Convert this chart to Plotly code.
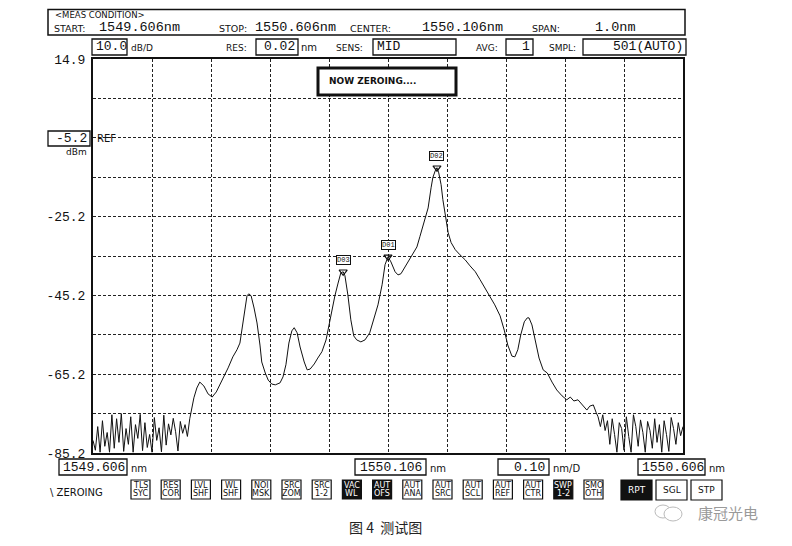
import plotly.graph_objects as go

# ---------------- data ----------------
left_noise_nm = [1549.606, 1549.610, 1549.614, 1549.618, 1549.622, 1549.626, 1549.630,
                 1549.634, 1549.638, 1549.642, 1549.646, 1549.650, 1549.654, 1549.658,
                 1549.662, 1549.666, 1549.670, 1549.674, 1549.678, 1549.682, 1549.686,
                 1549.690, 1549.694, 1549.698, 1549.702, 1549.706, 1549.710, 1549.714,
                 1549.718, 1549.722, 1549.726, 1549.730, 1549.734, 1549.738, 1549.742,
                 1549.746, 1549.750, 1549.754, 1549.758, 1549.762, 1549.766, 1549.770]
left_noise_dbm = [-82.0, -84.5, -78.5, -85.0, -77.0, -83.5, -80.0, -85.0, -75.5, -84.0,
                  -76.5, -82.5, -75.2, -84.8, -79.0, -83.0, -76.0, -85.0, -78.0, -81.5,
                  -75.4, -84.6, -77.5, -83.8, -80.5, -85.0, -76.2, -82.0, -78.8, -84.9,
                  -75.6, -83.2, -77.8, -80.6, -76.4, -79.8, -84.7, -77.2, -80.2, -78.0,
                  -81.0, -76.5]

main_nm = [1549.777, 1549.782, 1549.787, 1549.794, 1549.801, 1549.808, 1549.815, 1549.821, 1549.826, 1549.835,
           1549.843, 1549.850, 1549.855, 1549.860, 1549.864, 1549.867, 1549.870, 1549.874, 1549.879, 1549.884,
           1549.889, 1549.892, 1549.898, 1549.903, 1549.909, 1549.915, 1549.923, 1549.928, 1549.933, 1549.938,
           1549.943, 1549.947, 1549.952, 1549.957, 1549.964, 1549.969, 1549.974, 1549.981, 1549.987, 1549.994,
           1550.001, 1550.006, 1550.011, 1550.016, 1550.021, 1550.026, 1550.030, 1550.033, 1550.038, 1550.043,
           1550.048, 1550.053, 1550.060, 1550.067, 1550.075, 1550.082, 1550.089, 1550.096, 1550.101, 1550.106,
           1550.111, 1550.118, 1550.123, 1550.128, 1550.135, 1550.142, 1550.148, 1550.155, 1550.160, 1550.167,
           1550.174, 1550.179, 1550.182, 1550.186, 1550.189, 1550.192, 1550.196, 1550.199, 1550.203, 1550.208,
           1550.213, 1550.220, 1550.228, 1550.237, 1550.245, 1550.254, 1550.262, 1550.270, 1550.279, 1550.287,
           1550.296, 1550.303, 1550.309, 1550.316, 1550.321, 1550.326, 1550.331, 1550.337, 1550.342, 1550.345,
           1550.350, 1550.355, 1550.362, 1550.369, 1550.376, 1550.384, 1550.392, 1550.401, 1550.409, 1550.415,
           1550.421, 1550.428, 1550.435, 1550.443, 1550.448, 1550.454, 1550.459]
main_dbm = [-71.2, -68.7, -67.2, -68.2, -70.2, -71.0, -69.7, -67.9, -66.7, -63.6,
            -60.8, -59.0, -57.3, -51.9, -47.6, -45.3, -44.8, -45.3, -48.4, -52.2,
            -57.8, -62.1, -64.9, -66.7, -67.7, -67.9, -67.4, -65.9, -62.8, -57.3,
            -54.2, -53.4, -54.7, -58.3, -62.1, -64.1, -63.9, -62.6, -61.1, -59.5,
            -56.5, -52.7, -48.9, -45.3, -42.3, -39.5, -39.2, -40.2, -45.1, -51.4,
            -55.5, -56.5, -57.0, -56.5, -54.7, -51.4, -47.6, -42.5, -37.4, -35.4,
            -36.7, -39.2, -40.0, -39.7, -37.9, -36.4, -34.6, -32.9, -30.3, -26.8,
            -23.0, -17.9, -15.3, -13.6, -12.8, -14.1, -17.1, -20.9, -25.2, -29.3,
            -31.8, -33.6, -34.9, -36.2, -37.7, -39.2, -41.2, -43.3, -45.3, -47.6,
            -50.4, -54.0, -57.8, -60.6, -60.8, -59.0, -55.2, -51.9, -50.9, -50.9,
            -52.7, -56.5, -61.1, -64.1, -64.9, -67.2, -69.2, -70.7, -71.7, -71.0,
            -72.0, -71.7, -73.0, -74.3, -73.3, -73.0, -75.0]

right_noise_nm = [1550.462, 1550.466, 1550.470, 1550.474, 1550.478, 1550.482, 1550.486,
                  1550.490, 1550.494, 1550.498, 1550.502, 1550.506, 1550.510, 1550.514,
                  1550.518, 1550.522, 1550.526, 1550.530, 1550.534, 1550.538, 1550.542,
                  1550.546, 1550.550, 1550.554, 1550.558, 1550.562, 1550.566, 1550.570,
                  1550.574, 1550.578, 1550.582, 1550.586, 1550.590, 1550.594, 1550.598,
                  1550.602, 1550.606]
right_noise_dbm = [-76.0, -78.5, -75.5, -79.5, -77.0, -83.0, -76.5, -80.5, -85.0, -77.5,
                   -79.0, -84.5, -76.0, -81.0, -85.0, -75.5, -78.5, -83.5, -76.8, -80.0,
                   -85.0, -77.2, -79.5, -84.0, -76.5, -82.5, -78.0, -85.0, -77.0, -80.5,
                   -84.8, -76.2, -79.0, -83.0, -77.5, -80.8, -78.5]

marker_nm = [1550.189, 1550.106, 1550.030]
marker_dbm = [-12.8, -35.4, -39.2]
marker_labels = ["D02", "D01", "D03"]

y_tick_vals = [14.8, -25.2, -45.2, -65.2, -85.2]
y_tick_text = ["14.9", "-25.2", "-45.2", "-65.2", "-85.2"]
start_nm, stop_nm = 1549.606, 1550.606
y_min, y_max = -85.2, 14.8

# ---------------- figure ----------------
MONO = "Liberation Mono, DejaVu Sans Mono, monospace"
SANS = "DejaVu Sans, Liberation Sans, sans-serif"

trace_nm = left_noise_nm + main_nm + right_noise_nm
trace_dbm = left_noise_dbm + main_dbm + right_noise_dbm

fig = go.Figure()
fig.add_trace(go.Scatter(x=trace_nm, y=trace_dbm, mode="lines",
                         line=dict(color="#111", width=1), hoverinfo="skip"))
fig.add_trace(go.Scatter(x=marker_nm, y=marker_dbm, mode="markers",
                         marker=dict(symbol="triangle-down-open", size=7,
                                     color="#111", line=dict(width=1.2)),
                         hoverinfo="skip"))

# plot-area pixel geometry helpers (layout decoration only)
L, R, T, B = 93, 683, 59, 453
PAGE_OFFSET = 8  # default body margin of the html page


def X(px):
    return (px - L) / (R - L)


def Y(py):
    return (B - py) / (B - T)


ann = []
shapes = []


def text(px, py, s, size=10, anchor="left", color="#111", family=MONO, bold=False):
    if bold:
        s = "<b>" + s + "</b>"
    ann.append(dict(x=X(px), y=Y(py), xref="paper", yref="paper", text=s,
                    showarrow=False, xanchor=anchor, yanchor="middle",
                    font=dict(family=family, size=size, color=color)))


def box(x0, y0, x1, y1, width=1.3, fill="rgba(0,0,0,0)", color="#111"):
    shapes.append(dict(type="rect", xref="paper", yref="paper",
                       x0=X(x0), x1=X(x1), y0=Y(y1), y1=Y(y0),
                       line=dict(color=color, width=width), fillcolor=fill, layer="above"))


# header box
box(48, 9.5, 685, 35, width=1.5)
text(53, 14.5, "&lt;MEAS CONDITION&gt;", 8.5, family=SANS)
text(52, 28.5, "START:", 9.5, family=SANS)
text(97, 27.5, "1549.606nm", 13.5)
text(217, 28.5, "STOP:", 9.5, family=SANS)
text(253, 27.5, "1550.606nm", 13.5)
text(348, 28.5, "CENTER:", 9.5, family=SANS)
text(420, 27.5, "1550.106nm", 13.5)
text(530, 28.5, "SPAN:", 9.5, family=SANS)
text(593, 27.5, "1.0nm", 13.5)

# settings row
box(92, 39, 127, 55)
text(94, 47, "10.0", 13)
text(129, 48, "dB/D", 9, family=SANS)
text(224, 48, "RES:", 9, family=SANS)
box(256, 39, 298, 55)
text(297, 47, "0.02", 13, anchor="right")
text(299, 48, "nm", 10, family=SANS)
text(334, 48, "SENS:", 9, family=SANS)
box(373, 39, 456, 55)
text(375, 47, "MID", 13)
text(474, 48, "AVG:", 9, family=SANS)
box(506, 39, 533, 55)
text(532, 47, "1", 13, anchor="right")
text(547, 48, "SMPL:", 9, family=SANS)
box(583, 39, 686, 55)
text(685, 47, "501(AUTO)", 13, anchor="right")

# reference level
box(48, 131, 90, 146)
text(89, 138, "-5.2", 13, anchor="right")
text(89, 152, "dBm", 9, anchor="right", family=SANS)
text(95, 138, "REF", 10, family=SANS)

# NOW ZEROING box
box(318, 68, 456, 95, width=3, fill="white")
text(327, 81, "NOW ZEROING....", 9, family=SANS, bold=True)

# bottom axis boxes
box(59, 459, 127, 475)
text(61, 467, "1549.606", 13)
text(129, 468, "nm", 10, family=SANS)
box(355, 459, 426, 475)
text(358, 467, "1550.106", 13)
text(428, 468, "nm", 10, family=SANS)
box(498, 459, 549, 475)
text(547, 467, "0.10", 13, anchor="right")
text(551, 468, "nm/D", 10, family=SANS)
box(638, 459, 705, 475)
text(640, 467, "1550.606", 13)
text(707, 468, "nm", 10, family=SANS)

# soft-key row
text(48, 492, "\\ ZEROING", 10, family=SANS)
keys = [("TLS", "SYC", False), ("RES", "COR", False), ("LVL", "SHF", False),
        ("WL", "SHF", False), ("NOI", "MSK", False), ("SRC", "ZOM", False),
        ("SRC", "1-2", False), ("VAC", "WL", True), ("AUT", "OFS", True),
        ("AUT", "ANA", False), ("AUT", "SRC", False), ("AUT", "SCL", False),
        ("AUT", "REF", False), ("AUT", "CTR", False), ("SWP", "1-2", True),
        ("SMO", "OTH", False)]
for i, (a, b, dark) in enumerate(keys):
    x0 = 131 + 30.2 * i
    box(x0, 480, x0 + 19, 499, width=1.2, fill="#111" if dark else "white")
    col = "white" if dark else "#111"
    text(x0 + 9.5, 485.5, a, 8, anchor="center", color=col, family=SANS)
    text(x0 + 9.5, 494, b, 8, anchor="center", color=col, family=SANS)
for x0, lab, dark in [(621, "RPT", True), (656, "SGL", False), (691, "STP", False)]:
    box(x0, 480, x0 + 31, 500, width=1.2, fill="#111" if dark else "white")
    text(x0 + 15.5, 490, lab, 9, anchor="center", color="white" if dark else "#111", family=SANS)

# marker labels
for nm, db, lab in zip(marker_nm, marker_dbm, marker_labels):
    ann.append(dict(x=nm, y=db, xref="x", yref="y", text=lab, showarrow=False,
                    yshift=12, font=dict(family=MONO, size=7, color="#111"),
                    bordercolor="#111", borderwidth=1, borderpad=0, bgcolor="white"))

# caption and watermark
text(385, 527, "图 4  测试图", 14, anchor="center", color="#222",
     family="Noto Sans CJK SC, sans-serif")
text(728, 512, "康冠光电", 15, anchor="center", color="#9a9a9a",
     family="Noto Sans CJK SC, sans-serif")
shapes.append(dict(type="circle", xref="paper", yref="paper",
                   x0=X(655), x1=X(671), y0=Y(518), y1=Y(505),
                   line=dict(color="#bbb", width=1), layer="above"))
shapes.append(dict(type="circle", xref="paper", yref="paper",
                   x0=X(664), x1=X(682), y0=Y(521), y1=Y(507),
                   line=dict(color="#bbb", width=1), fillcolor="white", layer="above"))

grid_style = dict(showgrid=True, gridcolor="#222", gridwidth=1, griddash="3px,2px")

fig.update_layout(
    width=792, height=546, autosize=False,
    margin=dict(l=L - PAGE_OFFSET, r=792 - R + PAGE_OFFSET,
                t=T - PAGE_OFFSET, b=546 - B + PAGE_OFFSET),
    paper_bgcolor="white", plot_bgcolor="white",
    showlegend=False,
    xaxis=dict(range=[start_nm, stop_nm], tick0=start_nm, dtick=0.1,
               showticklabels=False, ticks="", zeroline=False,
               showline=True, mirror=True, linecolor="#111", linewidth=2,
               **grid_style),
    yaxis=dict(range=[y_min, y_max], tickvals=y_tick_vals, ticktext=y_tick_text,
               ticks="", zeroline=False, ticklabelstandoff=3,
               tickfont=dict(family=MONO, size=13, color="#111"),
               showline=True, mirror=True, linecolor="#111", linewidth=2,
               minor=dict(tick0=y_min, dtick=10, **grid_style),
               **grid_style),
    annotations=ann,
    shapes=shapes,
)

fig.write_html("out.html")
